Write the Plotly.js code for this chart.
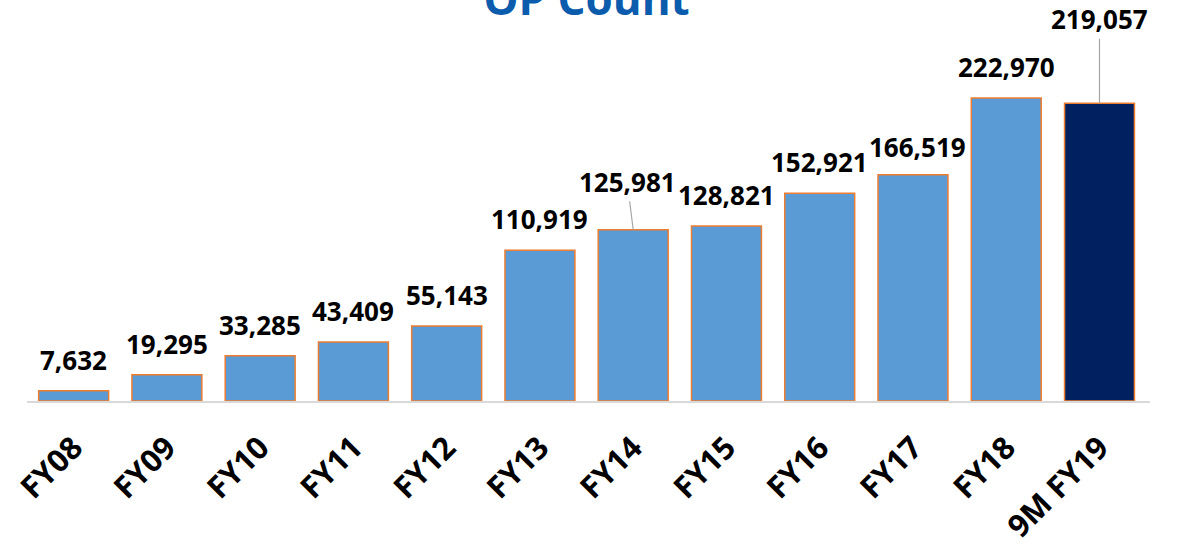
<!DOCTYPE html>
<html>
<head>
<meta charset="utf-8">
<script src="https://cdn.plot.ly/plotly-3.0.1.min.js"></script>
<style>html,body{margin:0;padding:0;background:#fff;}#chart{width:1185px;height:546px;}</style>
</head>
<body>
<div id="chart"></div>
<script>
const categories = ["FY08","FY09","FY10","FY11","FY12","FY13","FY14","FY15","FY16","FY17","FY18","9M FY19"];
const opCount = [7632,19295,33285,43409,55143,110919,125981,128821,152921,166519,222970,219057];
const labels = ["7,632","19,295","33,285","43,409","55,143","110,919","125,981","128,821","152,921","166,519","222,970","219,057"];
const barColors = categories.map((c,i)=> i === categories.length-1 ? "#002060" : "#5B9BD5");

const labelFont = {family:"Open Sans, sans-serif", size:26, color:"#000", weight:700};

const annotations = categories.map((c,i)=>{
  const a = {x:c, y:opCount[i], xref:"x", yref:"y", text:"<b>"+labels[i]+"</b>", font:labelFont, showarrow:false, yanchor:"middle", xanchor:"center", yshift:31};
  if (c === "FY14") {
    Object.assign(a, {showarrow:true, arrowhead:0, arrowwidth:1.2, arrowcolor:"#A6A6A6", ax:-6, ay:-48, yshift:0, standoff:0});
  } else if (c === "9M FY19") {
    Object.assign(a, {showarrow:true, arrowhead:0, arrowwidth:1.2, arrowcolor:"#A6A6A6", ax:0, ay:-84, yshift:0, standoff:0});
  } else if (c === "FY17") {
    a.xshift = 5; a.yshift = 28;
  }
  return a;
});

const data = [{
  type:"bar", x:categories, y:opCount,
  marker:{color:barColors, line:{color:"#ED7D31", width:1.5}},
  hoverinfo:"none"
}];

const layout = {
  width:1185, height:546,
  margin:{l:27, r:35, t:0, b:145},
  paper_bgcolor:"#fff", plot_bgcolor:"#fff",
  bargap:0.25,
  showlegend:false,
  title:{text:"<b>OP Count</b>", x:0.495, xanchor:"center", y:1.008, yref:"container", yanchor:"middle", font:{family:"Open Sans, sans-serif", size:44, color:"#0B5CAD"}},
  xaxis:{type:"category", showline:true, linecolor:"#D9D9D9", linewidth:2, ticks:"", tickangle:-45, showgrid:false, zeroline:false,
         ticklabelstandoff:14,
         tickfont:{family:"Open Sans, sans-serif", size:31, color:"#000", weight:700}},
  yaxis:{range:[0,295000], visible:false, showgrid:false, zeroline:false},
  annotations:annotations
};

Plotly.newPlot("chart", data, layout, {displayModeBar:false, staticPlot:true});
</script>
</body>
</html>
